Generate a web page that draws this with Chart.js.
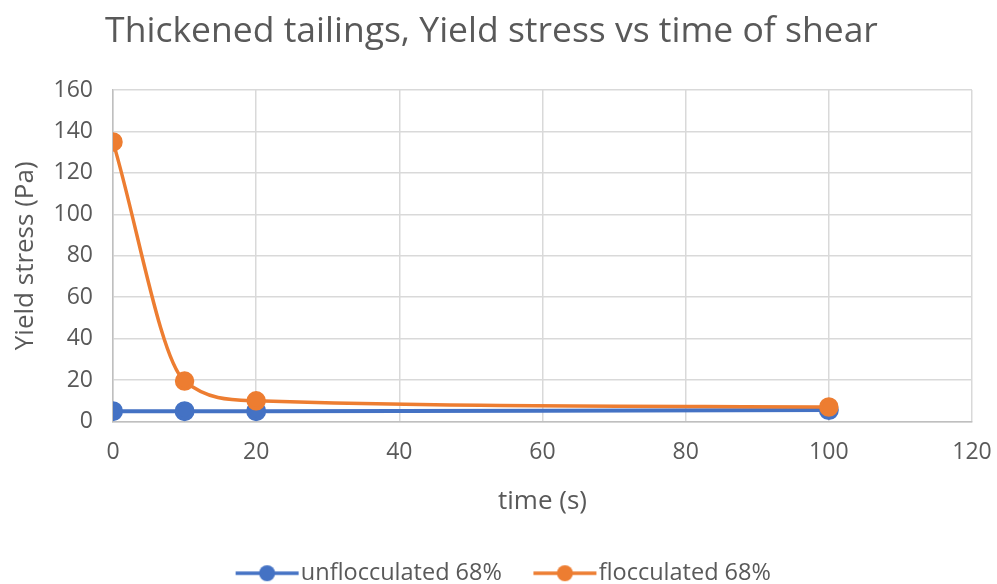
<!DOCTYPE html>
<html>
<head>
<meta charset="utf-8">
<script src="https://cdn.jsdelivr.net/npm/chart.js@4"></script>
<style>
  html, body { margin: 0; padding: 0; background: #fff; }
  #wrap { width: 997px; height: 584px; }
</style>
</head>
<body>
<div id="wrap"><canvas id="chart" width="997" height="584"></canvas></div>
<script>
const times = [0, 10, 20, 100];
const unflocculated = [5, 5, 5, 5.5];
const flocculated = [135, 19.5, 10, 7];
const seriesNames = ['unflocculated 68%', 'flocculated 68%'];
const seriesColors = ['#4472c4', '#ed7d31'];
const xTicks = [0, 20, 40, 60, 80, 100, 120];
const yTicks = [0, 20, 40, 60, 80, 100, 120, 140, 160];

const textColor = '#595959';
const gridColor = '#d9d9d9';
const fontFamily = '"Open Sans", sans-serif';

function toPoints(values) {
    return times.map((t, i) => ({ x: t, y: values[i] }));
}

// legend marker: line with a dot in the middle, like Excel.
// the image is wider than the legend box so the line sits right next to the text
function legendMarker(color) {
    const c = document.createElement('canvas');
    c.width = 98;
    c.height = 20;
    const g = c.getContext('2d');
    g.strokeStyle = color;
    g.lineWidth = 3.5;
    g.beginPath();
    g.moveTo(34, 10);
    g.lineTo(97, 10);
    g.stroke();
    g.fillStyle = color;
    g.beginPath();
    g.arc(65.5, 10, 8, 0, Math.PI * 2);
    g.fill();
    return c;
}
const markers = seriesColors.map(legendMarker);

const ctx = document.getElementById('chart').getContext('2d');
new Chart(ctx, {
    type: 'scatter',
    data: {
        datasets: [
            {
                label: seriesNames[0],
                data: toPoints(unflocculated),
                borderColor: seriesColors[0],
                backgroundColor: seriesColors[0],
                showLine: true,
                tension: 0.4,
                borderWidth: 4,
                pointRadius: 8,
                pointHoverRadius: 8,
                order: 1
            },
            {
                label: seriesNames[1],
                data: toPoints(flocculated),
                borderColor: seriesColors[1],
                backgroundColor: seriesColors[1],
                showLine: true,
                cubicInterpolationMode: 'monotone',
                borderWidth: 3.5,
                pointRadius: 8,
                pointHoverRadius: 8,
                order: 0
            }
        ]
    },
    options: {
        responsive: false,
        animation: false,
        layout: { padding: { left: 0, right: 14, top: 0, bottom: -11 } },
        plugins: {
            tooltip: { enabled: false },
            title: {
                display: true,
                text: 'Thickened tailings, Yield stress vs time of shear',
                color: textColor,
                font: { family: fontFamily, size: 35.5, weight: 'normal' },
                padding: { top: 11, bottom: 36.5 }
            },
            legend: {
                position: 'bottom',
                labels: {
                    color: textColor,
                    font: { family: fontFamily, size: 23.5 },
                    usePointStyle: true,
                    pointStyleWidth: 77,
                    padding: 8,
                    generateLabels: chart => seriesNames.map((name, i) => ({
                        text: name,
                        fontColor: textColor,
                        pointStyle: markers[i],
                        datasetIndex: i,
                        lineWidth: 0,
                        strokeStyle: 'transparent',
                        fillStyle: seriesColors[i]
                    }))
                }
            }
        },
        scales: {
            x: {
                type: 'linear',
                min: 0,
                max: 120,
                afterBuildTicks: axis => { axis.ticks = xTicks.map(v => ({ value: v })); },
                ticks: {
                    color: textColor,
                    font: { family: fontFamily, size: 23 },
                    padding: 17
                },
                grid: { color: gridColor, lineWidth: 1.5, drawTicks: false },
                border: { color: '#bfbfbf', width: 1.5 },
                title: {
                    display: true,
                    text: 'time (s)',
                    color: textColor,
                    font: { family: fontFamily, size: 26 },
                    padding: { top: 0, bottom: 36 }
                },
                afterFit: axis => {
                    axis.height = 132;
                    axis.paddingRight = 25;
                    axis.paddingLeft = 0;
                }
            },
            y: {
                type: 'linear',
                min: 0,
                max: 160,
                afterBuildTicks: axis => { axis.ticks = yTicks.map(v => ({ value: v })); },
                ticks: {
                    color: textColor,
                    font: { family: fontFamily, size: 23 },
                    padding: 20
                },
                grid: { color: gridColor, lineWidth: 1.5, drawTicks: false },
                border: { color: '#bfbfbf', width: 1.5 },
                title: {
                    display: true,
                    text: 'Yield stress (Pa)',
                    color: textColor,
                    font: { family: fontFamily, size: 26 },
                    padding: { top: 10, bottom: 0 }
                },
                afterFit: axis => { axis.width = 113; }
            }
        }
    }
});
</script>
</body>
</html>
